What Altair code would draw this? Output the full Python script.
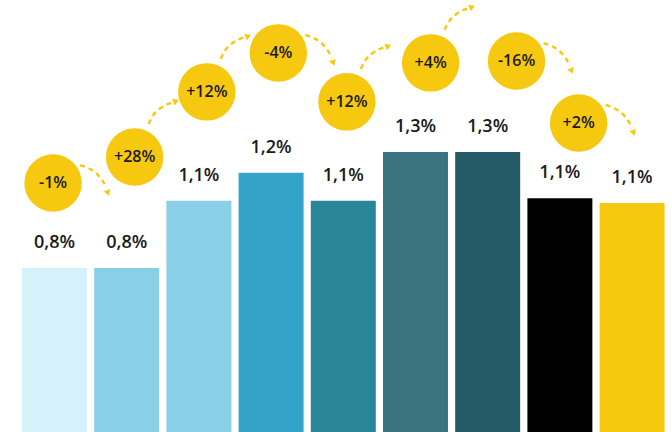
import altair as alt
import pandas as pd

# ---- data ----
bar_index = [0, 1, 2, 3, 4, 5, 6, 7, 8]
bar_values = [0.80, 0.80, 1.09, 1.21, 1.09, 1.30, 1.30, 1.10, 1.08]
bar_labels = ["0,8%", "0,8%", "1,1%", "1,2%", "1,1%", "1,3%", "1,3%", "1,1%", "1,1%"]
bar_colors = ["#D5F1FA", "#88CFE7", "#88CFE7", "#34A3CA", "#2A8598",
              "#3A727E", "#235A66", "#000000", "#F6C80F"]

bubble_labels = ["-1%", "+28%", "+12%", "-4%", "+12%", "+4%", "-16%", "+2%"]
bubble_x = [-0.02, 1.11, 2.11, 3.10, 4.05, 5.21, 6.40, 7.26]
bubble_y = [1.166, 1.278, 1.559, 1.727, 1.516, 1.684, 1.692, 1.425]
arrow_dir = ["down", "up", "up", "down", "up", "up", "down", "down"]

YELLOW = "#F6C80F"
FONT = "Open Sans"

# scale geometry (px per data unit) used only for arrow shape offsets
PX_X = 72.2
PX_Y = 232.0
X_DOMAIN = [-0.755, 8.553]
Y_DOMAIN = [0.093, 1.955]

bars = pd.DataFrame({"idx": bar_index, "value": bar_values,
                     "label": bar_labels, "color": bar_colors})
bubbles = pd.DataFrame({"x": bubble_x, "y": bubble_y, "label": bubble_labels})

# arrow shape templates (pixel offsets from bubble centre)
shape = {
    "down": [(27, -18), (36, -14.5), (44, -9), (50, -1.5), (53.5, 5)],
    "up": [(14, -33), (18, -41), (24, -47.5), (31, -52), (37, -54.5)],
}
tip = {"down": ((55, 10), 160), "up": ((41.5, -56), 66)}

rows, tips = [], []
for i, (bx, by, d) in enumerate(zip(bubble_x, bubble_y, arrow_dir)):
    for k, (dx, dy) in enumerate(shape[d]):
        rows.append({"a": i, "k": k, "x": bx + dx / PX_X, "y": by - dy / PX_Y})
    (tx, ty), ang = tip[d]
    tips.append({"x": bx + tx / PX_X, "y": by - ty / PX_Y, "angle": ang})
arrows = pd.DataFrame(rows)
heads = pd.DataFrame(tips)

xs = alt.Scale(domain=X_DOMAIN, nice=False, zero=False)
ys = alt.Scale(domain=Y_DOMAIN, nice=False, zero=False)

base = alt.Chart(bars).transform_calculate(
    x0="datum.idx - 0.45", x1="datum.idx + 0.45", y0="0"
)

bar_layer = base.mark_bar(clip=True).encode(
    x=alt.X("x0:Q", scale=xs, axis=None),
    x2="x1:Q",
    y=alt.Y("value:Q", scale=ys, axis=None),
    y2="y0:Q",
    color=alt.Color("color:N", scale=None),
)

bar_text = alt.Chart(bars).mark_text(
    font=FONT, fontSize=18, fontWeight=600, color="#1a1a1a",
    baseline="alphabetic", dy=-20
).encode(
    x=alt.X("idx:Q", scale=xs, axis=None),
    y=alt.Y("value:Q", scale=ys, axis=None),
    text="label:N",
)

arrow_layer = alt.Chart(arrows).mark_line(
    color=YELLOW, strokeWidth=2.4, strokeDash=[5, 4], interpolate="cardinal"
).encode(
    x=alt.X("x:Q", scale=xs, axis=None),
    y=alt.Y("y:Q", scale=ys, axis=None),
    detail="a:N",
    order="k:Q",
)

head_layer = alt.Chart(heads).mark_point(
    shape="triangle-up", filled=True, color=YELLOW, size=48, opacity=1
).encode(
    x=alt.X("x:Q", scale=xs, axis=None),
    y=alt.Y("y:Q", scale=ys, axis=None),
    angle=alt.Angle("angle:Q", scale=None),
)

bubble_layer = alt.Chart(bubbles).mark_circle(
    color=YELLOW, size=3300, opacity=1
).encode(
    x=alt.X("x:Q", scale=xs, axis=None),
    y=alt.Y("y:Q", scale=ys, axis=None),
)

bubble_text = alt.Chart(bubbles).mark_text(
    font=FONT, fontSize=16, fontWeight=600, color="#1a1a1a", baseline="middle"
).encode(
    x=alt.X("x:Q", scale=xs, axis=None),
    y=alt.Y("y:Q", scale=ys, axis=None),
    text="label:N",
)

chart = alt.layer(
    bar_layer, bar_text, arrow_layer, head_layer, bubble_layer, bubble_text
).properties(
    width=672, height=432, padding=0, background="white",
    autosize=alt.AutoSizeParams(type="none"),
).configure_view(stroke=None)

chart.save("out.html", embed_options={"renderer": "svg", "actions": False})
